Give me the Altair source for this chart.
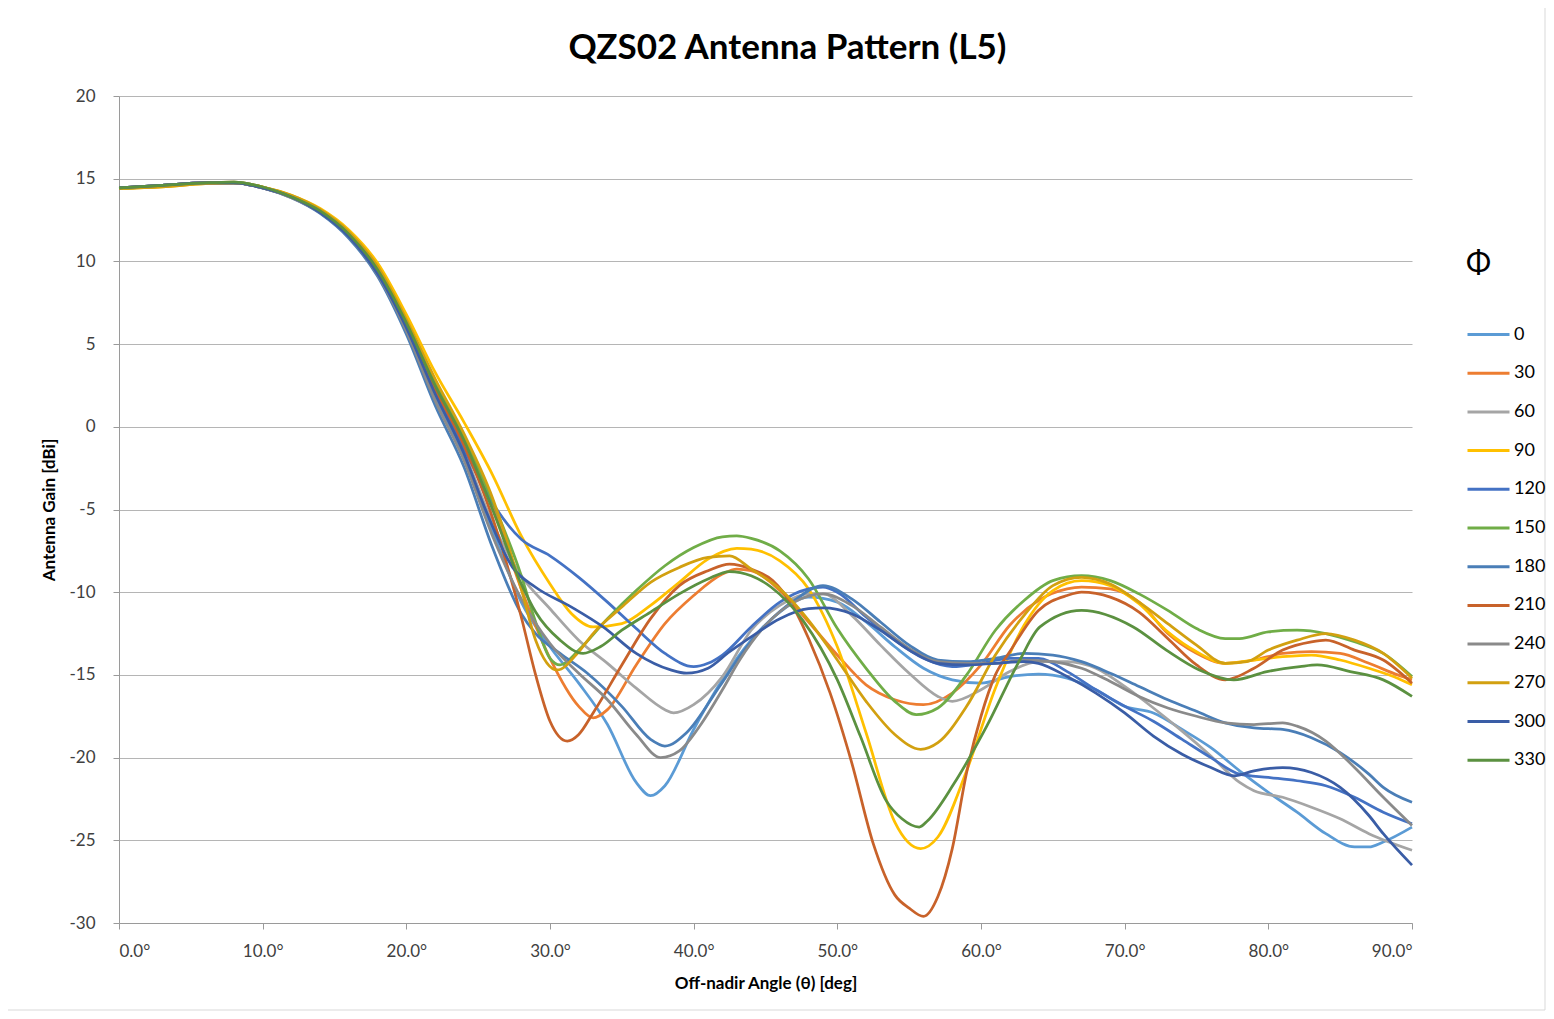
import altair as alt
import pandas as pd

PHI = ["0", "30", "60", "90", "120", "150", "180", "210", "240", "270", "300", "330"]
COLORS = ["#5B9BD5", "#ED7D31", "#A5A5A5", "#FFC000", "#4472C4", "#70AD47",
          "#4A7EB7", "#C8622A", "#8A8A8A", "#D2A010", "#3A5DA6", "#5B9140"]

th_0 = [0, 3, 6, 8, 10, 12, 14, 16, 18, 20, 22, 24, 26, 28, 30, 32, 34, 36, 37, 38, 40, 42, 44, 46, 48, 50, 52, 54, 56, 58, 60, 62, 64, 66, 68, 70, 72, 74, 76, 78, 80, 82, 84, 86, 87, 88, 90]
g_0 = [14.45, 14.6, 14.75, 14.75, 14.45, 13.9, 13.0, 11.6, 9.3, 5.9, 1.8, -1.8, -6.3, -10.6, -13.3, -15.5, -18.0, -21.5, -22.3, -21.7, -18.3, -15.3, -12.9, -11.2, -10.3, -10.6, -11.8, -13.3, -14.6, -15.3, -15.5, -15.1, -14.95, -15.2, -15.9, -16.9, -17.3, -18.3, -19.4, -20.8, -22.1, -23.3, -24.6, -25.4, -25.4, -25.1, -24.2]

th_30 = [0, 3, 6, 8, 10, 12, 14, 16, 18, 20, 22, 24, 26, 28, 30, 32, 33, 34, 36, 38, 40, 42, 43, 44, 46, 48, 50, 52, 54, 56, 58, 60, 62, 64, 66, 67, 69, 71, 73, 75, 77, 79, 81, 83, 85, 87, 89, 90]
g_30 = [14.4, 14.55, 14.75, 14.8, 14.5, 13.95, 13.1, 11.7, 9.6, 6.4, 2.6, -0.7, -4.8, -9.8, -14.0, -16.9, -17.6, -17.1, -14.4, -11.9, -10.2, -8.9, -8.6, -8.7, -9.9, -11.8, -13.8, -15.6, -16.5, -16.8, -16.1, -14.4, -12.0, -10.5, -9.8, -9.7, -9.8, -10.6, -12.5, -13.7, -14.3, -14.1, -13.7, -13.6, -13.7, -14.3, -15.0, -15.3]

th_60 = [0, 3, 6, 8, 10, 12, 14, 16, 18, 20, 22, 24, 26, 28, 30, 32, 34, 36, 38, 38.6, 40, 42, 44, 46, 48, 49, 51, 53, 55, 57, 58, 60, 62, 64, 66, 68, 70, 72, 74, 76, 78, 79, 81, 83, 85, 87, 90]
g_60 = [14.45, 14.6, 14.75, 14.75, 14.45, 13.9, 13.0, 11.6, 9.4, 6.0, 2.0, -1.5, -5.8, -9.0, -11.0, -12.9, -14.3, -15.8, -17.1, -17.3, -16.8, -15.1, -12.3, -10.8, -10.1, -10.1, -11.4, -13.2, -14.9, -16.3, -16.6, -15.9, -14.8, -14.2, -14.2, -14.6, -15.7, -17.0, -18.4, -19.9, -21.5, -22.0, -22.4, -23.0, -23.7, -24.6, -25.6]

th_90 = [0, 3, 6, 8, 10, 12, 14, 16, 18, 20, 22, 24, 26, 28, 30, 31.5, 33, 35, 37, 39, 41, 43, 44, 46, 48, 50, 52, 54, 55.8, 57, 59, 61, 63, 65, 67, 69, 71, 73, 75, 77, 79, 81, 83, 85, 87, 89, 90]
g_90 = [14.4, 14.5, 14.7, 14.75, 14.5, 14.0, 13.2, 11.9, 9.9, 6.8, 3.3, 0.3, -2.9, -6.6, -9.5, -11.3, -12.1, -11.9, -10.8, -9.4, -8.0, -7.35, -7.4, -8.1, -9.8, -13.3, -18.5, -23.9, -25.5, -24.8, -20.8, -15.8, -12.0, -9.9, -9.3, -9.6, -10.7, -12.4, -13.6, -14.3, -14.1, -13.9, -13.8, -14.1, -14.6, -15.2, -15.6]

th_120 = [0, 3, 6, 8, 10, 12, 14, 16, 18, 20, 22, 24, 26, 28, 30, 32, 34, 36, 38, 40, 41, 42, 44, 46, 48, 49, 50, 52, 54, 56, 58, 60, 62, 64, 66, 68, 70, 72, 74, 76, 78, 80, 82, 84, 86, 88, 90]
g_120 = [14.45, 14.6, 14.75, 14.75, 14.45, 13.9, 13.0, 11.6, 9.3, 6.1, 2.2, -1.3, -4.6, -6.8, -7.8, -9.1, -10.6, -12.2, -13.7, -14.5, -14.3, -13.8, -12.1, -10.6, -9.8, -9.7, -10.0, -11.5, -12.9, -14.0, -14.5, -14.3, -14.0, -14.0, -14.8, -15.9, -16.9, -17.8, -18.9, -20.0, -21.0, -21.2, -21.4, -21.7, -22.4, -23.3, -24.0]

th_150 = [0, 3, 6, 8, 10, 12, 14, 16, 18, 20, 22, 24, 26, 28, 29, 30, 30.7, 32, 34, 36, 38, 40, 42, 43, 44, 46, 48, 50, 52, 54, 55.5, 57, 59, 61, 63, 65, 67, 69, 71, 73, 75, 77, 78, 80, 82, 84, 86, 88, 90]
g_150 = [14.4, 14.55, 14.75, 14.8, 14.5, 13.95, 13.1, 11.7, 9.6, 6.4, 2.7, -0.6, -4.5, -9.0, -11.8, -14.0, -14.4, -13.5, -11.6, -9.9, -8.4, -7.3, -6.65, -6.6, -6.75, -7.5, -9.2, -12.2, -14.6, -16.6, -17.4, -17.0, -15.0, -12.3, -10.5, -9.3, -9.0, -9.3, -10.1, -11.1, -12.2, -12.8, -12.8, -12.4, -12.3, -12.5, -13.0, -13.7, -15.1]

th_180 = [0, 3, 6, 8, 10, 12, 14, 16, 18, 20, 22, 24, 26, 28, 29, 30.7, 32.6, 35, 37, 38, 39.5, 41.8, 43.2, 45, 47, 49, 51, 53, 55, 57, 59, 61, 63, 65, 67, 69, 71, 73, 75, 77, 79, 81, 83, 85, 87, 88, 90]
g_180 = [14.45, 14.6, 14.75, 14.75, 14.45, 13.85, 12.9, 11.4, 9.1, 5.6, 1.3, -2.4, -7.3, -11.3, -12.5, -13.7, -14.9, -16.9, -18.9, -19.3, -18.5, -15.7, -13.9, -12.0, -10.5, -9.6, -10.4, -11.8, -13.2, -14.1, -14.2, -14.0, -13.7, -13.8, -14.2, -14.9, -15.7, -16.5, -17.2, -17.9, -18.2, -18.3, -18.8, -19.7, -21.0, -21.8, -22.7]

th_210 = [0, 3, 6, 8, 10, 12, 14, 16, 18, 20, 22, 24, 26, 28, 29, 30, 31.2, 32, 33, 35, 37, 39, 41, 42.5, 44, 45.5, 47, 48, 49.5, 51, 52.5, 54, 55, 56, 57, 58, 59, 60, 61, 62, 64, 66, 67, 69, 71, 73, 75, 77, 79, 81, 83, 84, 86, 88, 90]
g_210 = [14.45, 14.6, 14.75, 14.75, 14.45, 13.9, 13.0, 11.6, 9.5, 6.2, 2.3, -1.1, -5.5, -11.5, -15.0, -17.8, -19.0, -18.6, -17.3, -14.4, -11.6, -9.6, -8.7, -8.3, -8.6, -9.3, -11.0, -12.8, -16.1, -20.3, -25.2, -28.3, -29.1, -29.6, -28.4, -25.5, -20.9, -17.5, -15.0, -13.6, -11.1, -10.2, -10.0, -10.3, -11.2, -12.8, -14.4, -15.3, -14.6, -13.5, -13.0, -12.9, -13.5, -14.1, -15.5]

th_240 = [0, 3, 6, 8, 10, 12, 14, 16, 18, 20, 22, 24, 26, 28, 30, 32, 34, 36, 37.7, 39, 40.5, 42, 43.2, 45, 47, 49, 51, 53, 55, 57, 59, 61, 63, 65, 67, 69, 71, 73, 75, 77, 79, 81, 82, 84, 86, 88, 90]
g_240 = [14.45, 14.6, 14.75, 14.75, 14.45, 13.85, 12.95, 11.5, 9.2, 5.8, 1.6, -2.0, -6.6, -10.4, -13.1, -14.9, -16.5, -18.6, -20.0, -19.6, -18.0, -15.9, -14.1, -12.0, -10.6, -10.1, -10.8, -12.1, -13.4, -14.2, -14.3, -14.3, -14.1, -14.2, -14.6, -15.4, -16.3, -17.0, -17.5, -17.9, -18.0, -17.9, -18.1, -19.0, -20.6, -22.4, -24.1]

th_270 = [0, 3, 6, 8, 10, 12, 14, 16, 18, 20, 22, 24, 26, 28, 29, 30.5, 32, 33, 35, 37, 39, 41, 42.5, 44, 46, 48, 50, 52, 54, 55.8, 57, 59, 61, 63, 65, 67, 69, 71, 73, 75, 77, 78.5, 80, 82, 84, 86, 88, 90]
g_270 = [14.4, 14.5, 14.7, 14.75, 14.5, 14.0, 13.15, 11.8, 9.7, 6.5, 2.9, -0.4, -4.3, -9.8, -12.9, -14.7, -13.6, -12.5, -10.9, -9.4, -8.5, -7.9, -7.8, -8.6, -9.8, -11.7, -14.1, -16.6, -18.6, -19.5, -19.1, -16.9, -13.8, -11.4, -9.6, -9.1, -9.5, -10.6, -11.9, -13.2, -14.3, -14.2, -13.5, -12.9, -12.5, -12.9, -13.7, -15.2]

th_300 = [0, 3, 6, 8, 10, 12, 14, 16, 18, 20, 22, 24, 25.6, 27.4, 29, 31.5, 33.7, 36, 38.4, 39.5, 41, 42.5, 44, 46, 48, 49, 51, 53, 55, 57, 59, 61, 63, 64, 66, 68, 70, 72, 74, 76, 77.6, 79, 81, 83, 85, 87, 88, 90]
g_300 = [14.45, 14.6, 14.75, 14.75, 14.45, 13.9, 12.95, 11.5, 9.25, 6.0, 2.0, -1.6, -5.2, -8.5, -9.7, -10.9, -12.1, -13.7, -14.7, -14.9, -14.6, -13.6, -12.7, -11.6, -11.0, -10.95, -11.3, -12.3, -13.5, -14.3, -14.4, -14.3, -14.2, -14.3, -15.1, -16.1, -17.3, -18.7, -19.8, -20.6, -21.1, -20.8, -20.6, -20.9, -21.8, -23.5, -24.6, -26.5]

th_330 = [0, 3, 6, 8, 10, 12, 14, 16, 18, 20, 22, 24, 26, 28, 29, 30.7, 32.3, 33.5, 35, 37, 39, 41, 42.5, 44, 45.4, 47.6, 50, 51.6, 53.4, 54.5, 55.7, 56.3, 58.1, 60.4, 62.7, 64.1, 67, 70.6, 72.9, 75.2, 77.6, 79.9, 82.2, 83.4, 85.7, 88, 90]
g_330 = [14.45, 14.6, 14.75, 14.8, 14.5, 13.9, 13.05, 11.65, 9.5, 6.3, 2.5, -0.8, -5.0, -9.5, -11.2, -12.9, -13.7, -13.3, -12.3, -11.2, -10.1, -9.2, -8.75, -9.0, -9.7, -11.7, -15.3, -18.7, -22.6, -23.7, -24.2, -23.8, -21.6, -18.1, -14.1, -12.1, -11.1, -12.1, -13.5, -14.7, -15.3, -14.8, -14.5, -14.4, -14.8, -15.3, -16.3]

THETAS = [th_0, th_30, th_60, th_90, th_120, th_150, th_180, th_210, th_240, th_270, th_300, th_330]
GAINS = [g_0, g_30, g_60, g_90, g_120, g_150, g_180, g_210, g_240, g_270, g_300, g_330]

rows = []
for phi, th, g in zip(PHI, THETAS, GAINS):
    for t, v in zip(th, g):
        rows.append({"theta": t, "gain": v, "phi": phi})
df = pd.DataFrame(rows)

FONT = "Lato"
TXT = "#404040"

frame = alt.Chart(pd.DataFrame({"k": [0]})).mark_rect(
    fill="transparent", stroke="#D9D9D9", strokeWidth=1
).encode(x=alt.value(-114), x2=alt.value(1426), y=alt.value(-90), y2=alt.value(914))

lines = alt.Chart(df).mark_line(strokeWidth=2.75, interpolate="monotone").encode(
    x=alt.X("theta:Q",
            scale=alt.Scale(domain=[0, 90], nice=False, zero=False),
            axis=alt.Axis(values=list(range(0, 91, 10)),
                          labelExpr="format(datum.value, '.1f') + '°'",
                          title="Off-nadir Angle (θ) [deg]",
                          grid=False, tickSize=6, labelPadding=14,
                          titlePadding=16)),
    y=alt.Y("gain:Q",
            scale=alt.Scale(domain=[-30, 20], nice=False, zero=False),
            axis=alt.Axis(values=list(range(-30, 21, 5)),
                          labelExpr="'' + datum.value",
                          title="Antenna Gain [dBi]",
                          grid=True, tickSize=6, labelPadding=18,
                          titlePadding=10)),
    color=alt.Color("phi:N", sort=PHI,
                    scale=alt.Scale(domain=PHI, range=COLORS),
                    legend=alt.Legend(title="Φ", orient="none", legendX=1347, legendY=153,
                                      symbolType="stroke", symbolSize=1764,
                                      symbolStrokeWidth=3, labelFontSize=18,
                                      labelFont=FONT, labelColor="#000000",
                                      titleFontSize=30, titleFontWeight="normal",
                                      titleFont=FONT, titleColor="#000000",
                                      titlePadding=33, rowPadding=6.7, labelOffset=3,
                                      titleAnchor="start", padding=0)),
)

chart = alt.layer(frame, lines).properties(
    width=1293, height=827,
    title=alt.TitleParams("QZS02 Antenna Pattern (L5)", fontSize=35, fontWeight="bold",
                          font=FONT, color="#000000", anchor="middle", frame="group",
                          dx=22, offset=-88, baseline="alphabetic"),
    autosize=alt.AutoSizeParams(type="none"),
    padding={"left": 111, "top": 88, "right": 134, "bottom": 88},
).configure_view(stroke="transparent").configure_axis(
    labelFont=FONT, labelFontSize=17, labelColor=TXT,
    titleFont=FONT, titleFontSize=17, titleFontWeight="bold", titleColor="#000000",
    domainColor="#9A9A9A", tickColor="#9A9A9A", gridColor="#B5B5B5",
    domainWidth=1, gridWidth=1
)

chart.save("out.html", embed_options={"renderer": "svg", "actions": False})
